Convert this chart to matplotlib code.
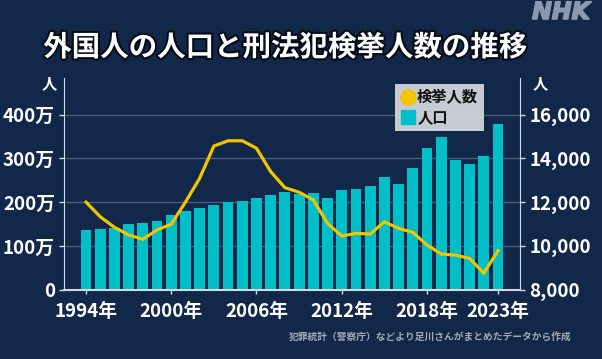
import matplotlib
matplotlib.use("Agg")
import matplotlib.pyplot as plt
import matplotlib.patheffects as pe
from matplotlib.lines import Line2D

plt.rcParams['font.family'] = ['Noto Sans CJK JP', 'DejaVu Sans']
plt.rcParams['font.weight'] = 'bold'

years = list(range(1994, 2024))
population_man = [136, 138, 142, 150, 152, 157, 170, 180, 186, 193,
                  200, 202, 210, 217, 223, 219, 221, 209, 227, 231,
                  237, 257, 241, 278, 323, 349, 297, 288, 305, 379]
arrests = [12000, 11330, 10850, 10500, 10300, 10730, 10990, 12000, 13090, 14560,
           14800, 14800, 14460, 13390, 12660, 12450, 12100, 11030, 10450, 10575,
           10540, 11100, 10800, 10620, 10040, 9630, 9580, 9430, 8750, 9780]
xtick_years = [1994, 2000, 2006, 2012, 2018, 2023]
xtick_labels = ["1994年", "2000年", "2006年", "2012年", "2018年", "2023年"]
left_ticks = [0, 100, 200, 300, 400]
left_labels = ["0", "100万", "200万", "300万", "400万"]
right_ticks = [8000, 10000, 12000, 14000, 16000]
right_labels = ["8,000", "10,000", "12,000", "14,000", "16,000"]

BG = '#12284a'
BAR = '#00bfc9'
LINE = '#f2c500'
GRID = '#4a5b78'
SPINE = '#d4d8e0'
W, H = 602, 359

fig = plt.figure(figsize=(W / 100, H / 100), dpi=100, facecolor=BG)
ax = fig.add_axes([64 / W, 1 - 289.7 / H, (520 - 64) / W, (289.7 - 78) / H])
ax.set_facecolor(BG)
ax2 = ax.twinx()

ax.bar(years, population_man, width=0.76, color=BAR, zorder=2)
ax.set_xlim(1994 - 1.55, 2023 + 1.55)
ymax = (289.7 - 78) / 43.8 * 100
ax.set_ylim(0, ymax)
ax.set_yticks(left_ticks)
ax.set_yticklabels(left_labels)
ax.set_axisbelow(True)
ax.yaxis.grid(True, color=GRID, linewidth=1.0)
ax.set_xticks(xtick_years)
ax.set_xticklabels(xtick_labels)

ax2.plot(years, arrests, color=LINE, linewidth=2.3, zorder=3, solid_joinstyle='miter')
ax2.set_ylim(8000, 8000 + ymax / 100 * 2000)
ax2.set_yticks(right_ticks)
ax2.set_yticklabels(right_labels)

for a in (ax, ax2):
    for s in a.spines.values():
        s.set_visible(False)
ax.spines['left'].set_visible(True)
ax.spines['left'].set_color(SPINE)
ax.spines['bottom'].set_visible(True)
ax.spines['bottom'].set_color(SPINE)
ax.spines['bottom'].set_linewidth(1.5)
ax2.spines['right'].set_visible(True)
ax2.spines['right'].set_color(SPINE)

ax.tick_params(axis='y', colors=SPINE, length=3.5, width=1, pad=3, labelsize=13.5, labelcolor='white')
ax.tick_params(axis='x', colors=SPINE, length=3, width=1, pad=6, labelsize=13.5, labelcolor='white')
ax2.tick_params(axis='y', colors=SPINE, length=3.5, width=1, pad=3, labelsize=13.5, labelcolor='white')
for lab in ax.get_xticklabels() + ax.get_yticklabels() + ax2.get_yticklabels():
    lab.set_fontweight('bold')

# unit labels
fig.text(49 / W, 1 - 83 / H, "人", color='white', fontsize=11, fontweight='bold', ha='center', va='center')
fig.text(540 / W, 1 - 83 / H, "人", color='white', fontsize=11, fontweight='bold', ha='center', va='center')

# title
fig.text(285.5 / W, 1 - 48 / H, "外国人の人口と刑法犯検挙人数の推移", color='white', fontsize=20.5,
         fontweight='bold', ha='center', va='center',
         path_effects=[pe.withStroke(linewidth=3, foreground='#050c18')])

# NHK logo
fig.text(561 / W, 1 - 12 / H, "NHK", color='#8b98b0', fontsize=17, fontweight='heavy',
         style='italic', family='DejaVu Sans', ha='center', va='center',
         path_effects=[pe.withStroke(linewidth=1.2, foreground='#8b98b0')])

# source
fig.text(572 / W, 1 - 337 / H, "犯罪統計（警察庁）などより足川さんがまとめたデータから作成",
         color='#a3abba', fontsize=7, fontweight='bold', ha='right', va='center')

handles = [Line2D([], [], marker='o', linestyle='none', markersize=11, color=LINE),
           Line2D([], [], marker='s', linestyle='none', markersize=10, color=BAR)]
leg = fig.legend(handles, ["検挙人数", "人口"], loc='upper left',
                 bbox_to_anchor=(395 / W, 1 - 84 / H), frameon=True, fancybox=False,
                 facecolor='#d5d8df', edgecolor='none', framealpha=0.93,
                 prop={'size': 11, 'weight': 'bold'}, handletextpad=0.1,
                 handlelength=1.0, borderpad=0.35, labelspacing=0.25, borderaxespad=0)
for t in leg.get_texts():
    t.set_color('#111111')

fig.savefig("out.png", dpi=100, facecolor=BG)
